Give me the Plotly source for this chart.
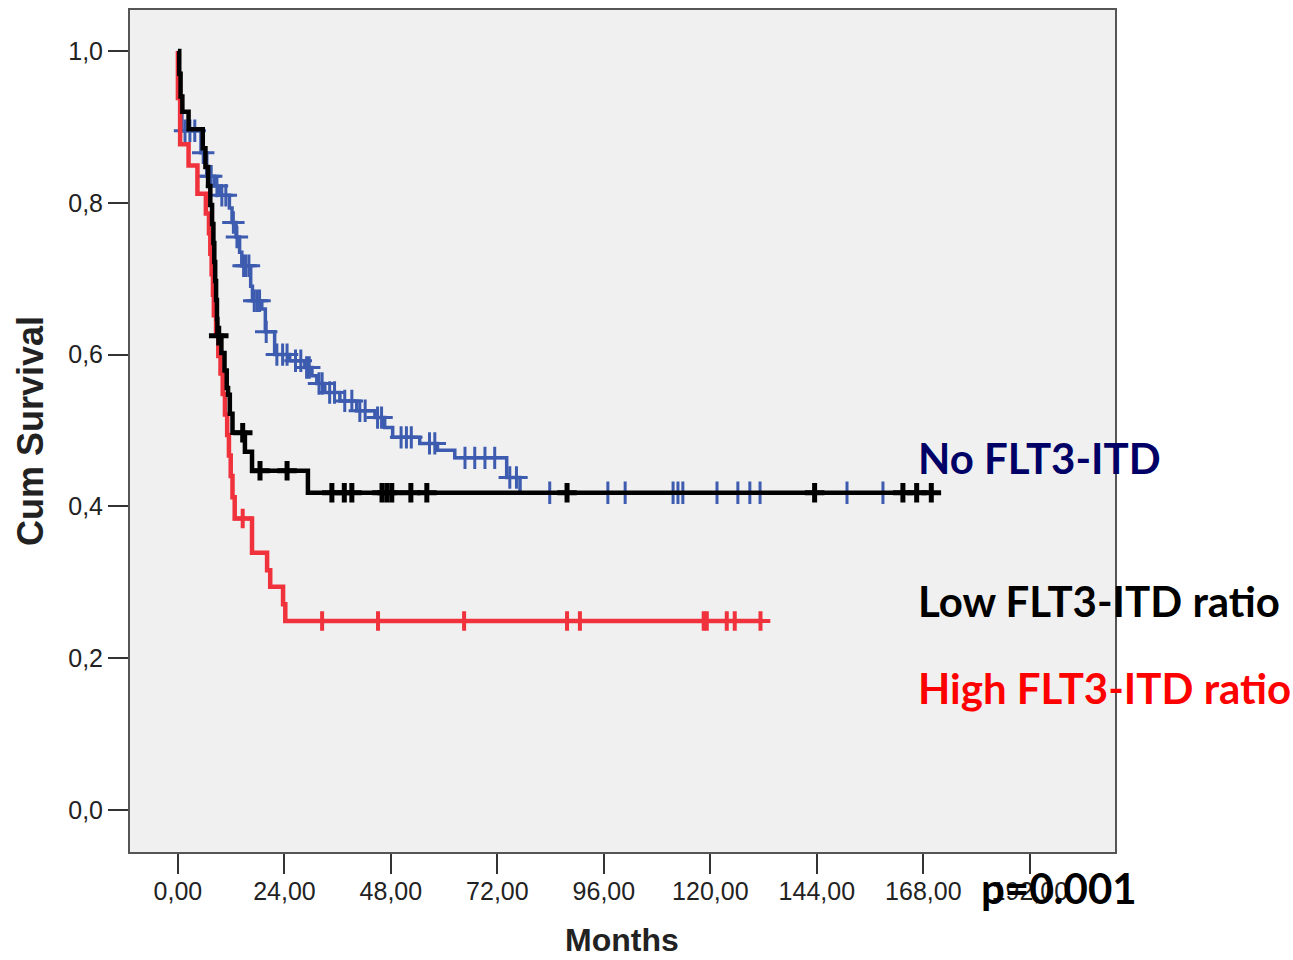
import plotly.graph_objects as go

# Kaplan-Meier estimates: drop times (months) and survival after each drop,
# plus censoring times for each group.

no_itd_event_t = [0.2, 0.5, 0.9, 5.2, 6.5, 8.3, 9.4, 11.6, 12.2, 13.1, 13.9, 14.4,
                  16.4, 16.8, 18.9, 19.7, 21.8, 25.2, 28.6, 30.2, 31.3, 33.1, 36.5,
                  40.3, 44.4, 46.6, 48.4, 54.5, 58.5, 62.4, 74.1, 77.1]
no_itd_event_s = [0.965, 0.930, 0.895, 0.866, 0.835, 0.822, 0.810, 0.793, 0.774, 0.755,
                  0.735, 0.717, 0.690, 0.671, 0.660, 0.630, 0.600, 0.592, 0.583, 0.572,
                  0.562, 0.550, 0.539, 0.526, 0.517, 0.504, 0.491, 0.483, 0.474, 0.464,
                  0.438, 0.418]
no_itd_censor_t = [1.6, 2.7, 3.8, 5.7, 7.0, 7.5, 8.8, 9.9, 10.8, 12.5, 13.3, 14.8, 15.3,
                   16.0, 17.2, 17.8, 18.4, 19.9, 22.3, 23.6, 24.6, 26.5, 27.7, 29.0, 29.6,
                   31.8, 32.5, 34.2, 35.3, 37.6, 39.2, 41.0, 42.2, 45.0, 45.9, 50.3, 51.5,
                   52.6, 56.7, 57.9, 64.7, 66.9, 69.2, 71.4, 74.8, 76.3, 83.8, 96.9, 100.8,
                   111.6, 112.7, 113.8, 121.5, 126.2, 128.9, 131.2, 150.8, 158.9]

high_event_t = [0.0, 0.5, 2.4, 4.4, 6.3, 7.0, 7.3, 7.6, 7.9, 8.1, 8.6, 9.1, 9.6, 10.1,
                10.6, 11.1, 11.5, 11.9, 12.3, 12.8, 16.7, 20.1, 20.8, 23.7, 24.2]
high_event_s = [0.938, 0.877, 0.849, 0.812, 0.786, 0.760, 0.733, 0.706, 0.679, 0.652,
                0.625, 0.598, 0.575, 0.548, 0.521, 0.494, 0.467, 0.440, 0.412, 0.384,
                0.339, 0.316, 0.294, 0.271, 0.249]
high_censor_t = [14.6, 32.5, 45.1, 64.5, 87.7, 90.6, 118.5, 119.2, 123.7, 125.5, 131.3]

low_event_t = [0.3, 0.6, 1.0, 2.4, 5.6, 6.2, 6.8, 7.3, 7.7, 8.0, 8.2, 8.4, 8.6, 8.8,
               8.9, 9.8, 10.5, 11.0, 11.3, 11.7, 12.3, 15.1, 16.7, 29.3]
low_event_s = [0.970, 0.940, 0.920, 0.897, 0.872, 0.847, 0.822, 0.797, 0.772, 0.747,
               0.722, 0.697, 0.672, 0.647, 0.625, 0.602, 0.579, 0.556, 0.547, 0.522,
               0.497, 0.472, 0.447, 0.418]
low_censor_t = [9.2, 14.6, 18.5, 24.6, 34.7, 37.5, 39.2, 46.0, 47.1, 48.2, 52.5, 56.1,
                87.7, 143.5, 163.4, 166.5, 169.8]

x_tick_vals = [0, 24, 48, 72, 96, 120, 144, 168, 192]
x_tick_text = ["0,00", "24,00", "48,00", "72,00", "96,00", "120,00", "144,00",
               "168,00", "192,00"]
y_tick_vals = [0.0, 0.2, 0.4, 0.6, 0.8, 1.0]
y_tick_text = ["0,0", "0,2", "0,4", "0,6", "0,8", "1,0"]

# name, drop times, survival, censor times, colour, line width, marker stroke, marker size
groups = [
    ("No FLT3-ITD", no_itd_event_t, no_itd_event_s, no_itd_censor_t, "#3d5cb0", 3.5, 3, 16),
    ("High FLT3-ITD ratio", high_event_t, high_event_s, high_censor_t, "#f0323c", 4.5, 4, 14),
    ("Low FLT3-ITD ratio", low_event_t, low_event_s, low_censor_t, "#000000", 4.5, 5, 14),
]


def surv_at(t, ev_t, ev_s):
    s = 1.0
    for et, es in zip(ev_t, ev_s):
        if et <= t:
            s = es
    return s


fig = go.Figure()
for name, ev_t, ev_s, cen_t, color, lw, mlw, msize in groups:
    end_t = max(cen_t + ev_t)
    xs = [0.0] + list(ev_t) + [end_t]
    ys = [1.0] + list(ev_s) + [ev_s[-1]]
    fig.add_trace(go.Scatter(x=xs, y=ys, mode="lines", line=dict(color=color, width=lw, shape="hv"),
                             name=name, showlegend=False, hoverinfo="skip"))
    fig.add_trace(go.Scatter(x=cen_t, y=[surv_at(t, ev_t, ev_s) for t in cen_t], mode="markers",
                             marker=dict(symbol="cross-thin", size=msize,
                                         line=dict(color=color, width=mlw)),
                             name=name + " censored", showlegend=False))

axis_font = dict(family="Liberation Sans, Arial, sans-serif", size=25, color="#222222")

fig.update_layout(
    width=1293, height=960,
    margin=dict(l=130, r=178, t=8, b=108),
    paper_bgcolor="white",
    plot_bgcolor="#f0f0f0",
    xaxis=dict(range=[-10.8, 211.2], tickvals=x_tick_vals, ticktext=x_tick_text,
               ticks="outside", ticklen=20, tickwidth=2, tickcolor="#333333",
               ticklabelstandoff=-4,
               showgrid=False, zeroline=False, showline=True, linecolor="#555555",
               linewidth=2, mirror=True, tickfont=axis_font),
    yaxis=dict(range=[-0.0553, 1.054], tickvals=y_tick_vals, ticktext=y_tick_text,
               ticks="outside", ticklen=20, tickwidth=2, tickcolor="#333333",
               showgrid=False, zeroline=False, showline=True, linecolor="#555555",
               linewidth=2, mirror=True, tickfont=axis_font),
)

label_font = "Lato, Carlito, Calibri, sans-serif"
annotations = [
    dict(text="<b>Months</b>", x=622, y=940, font=dict(family="Liberation Sans, Arial", size=32, color="#222222"),
         xanchor="center", angle=0),
    dict(text="<b>Cum Survival</b>", x=30, y=430, font=dict(family="Liberation Sans, Arial", size=36, color="#222222"),
         xanchor="center", angle=-90),
    dict(text="<b>No FLT3-ITD</b>", x=916, y=457, font=dict(family=label_font, size=42, color="#000066"),
         xanchor="left", angle=0),
    dict(text="<b>Low FLT3-ITD ratio</b>", x=916, y=600, font=dict(family=label_font, size=42, color="#000000"),
         xanchor="left", angle=0),
    dict(text="<b>High FLT3-ITD ratio</b>", x=916, y=688, font=dict(family=label_font, size=42, color="#ff0000"),
         xanchor="left", angle=0),
    dict(text="<b>p=0.001</b>", x=979, y=888, font=dict(family=label_font, size=42, color="#000000"),
         xanchor="left", angle=0),
]
# Place annotations in page pixels, converted to paper coordinates
for a in annotations:
    fig.add_annotation(
        text=a["text"], xref="paper", yref="paper",
        x=(a["x"] - 130) / 985, y=(852 - a["y"]) / 844,
        xanchor=a["xanchor"], yanchor="middle", textangle=a["angle"],
        showarrow=False, font=a["font"],
    )

fig.write_html("out.html")
